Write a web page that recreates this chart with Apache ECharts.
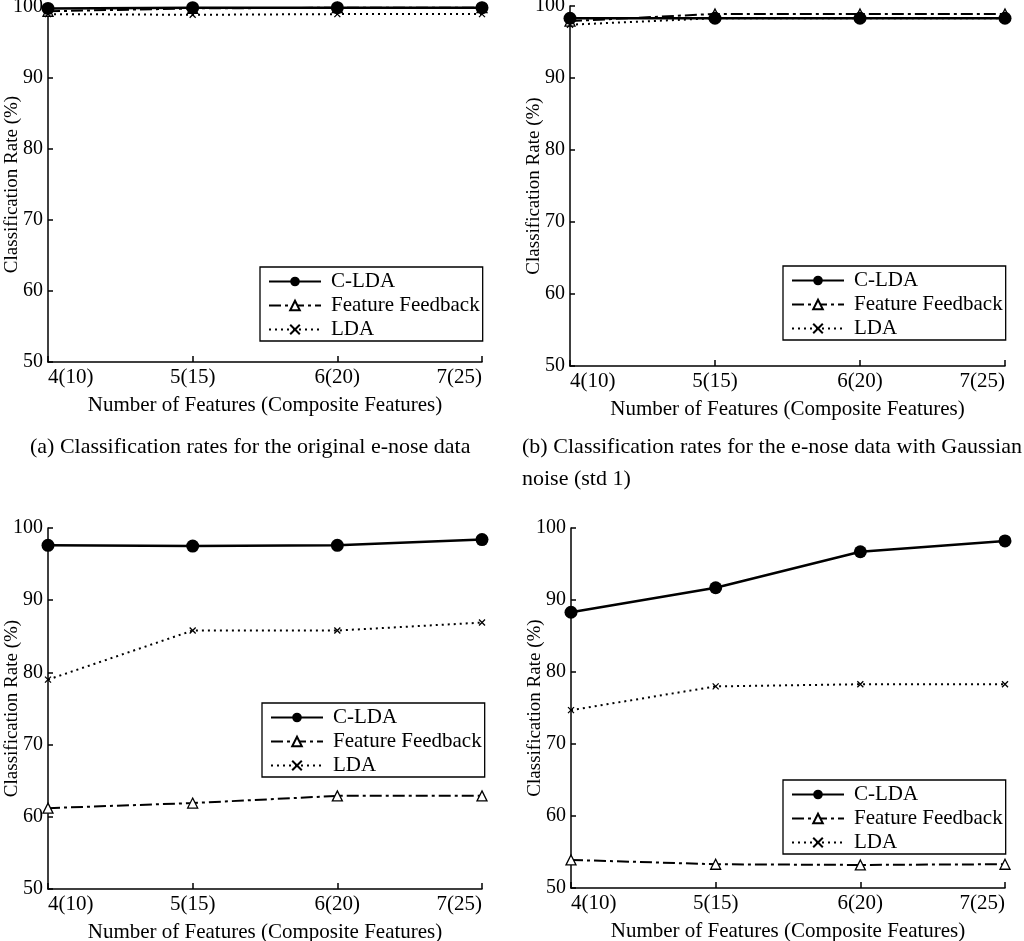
<!DOCTYPE html>
<html lang="en">
<head>
    <meta charset="UTF-8">
    <title>Classification rates</title>
    <script src="https://cdn.jsdelivr.net/npm/echarts@6/dist/echarts.min.js"></script>
    <style>
        html, body { margin: 0; padding: 0; background: #fff; }
        #charts { width: 1024px; height: 941px; }
    </style>
</head>
<body>
<div id="charts"></div>
<script>
    // categories on the x axis
    var categories = ['4(10)', '5(15)', '6(20)', '7(25)'];
    var yTicks = [50, 60, 70, 80, 90, 100];
    var seriesNames = ['C-LDA', 'Feature Feedback', 'LDA'];

    // (a) original e-nose data
    var aCLDA = [99.8, 99.9, 99.9, 99.9];
    var aFeedback = [99.4, 99.8, 99.9, 99.9];
    var aLDA = [99.0, 98.9, 99.0, 99.0];
    // (b) gaussian noise std 1
    var bCLDA = [98.3, 98.3, 98.3, 98.3];
    var bFeedback = [97.9, 98.9, 98.9, 98.9];
    var bLDA = [97.4, 98.3, 98.3, 98.3];
    // (c)
    var cCLDA = [97.6, 97.5, 97.6, 98.4];
    var cFeedback = [61.2, 61.9, 62.9, 62.9];
    var cLDA = [79.0, 85.8, 85.8, 86.9];
    // (d)
    var dCLDA = [88.3, 91.7, 96.7, 98.2];
    var dFeedback = [53.9, 53.3, 53.2, 53.3];
    var dLDA = [74.7, 78.0, 78.3, 78.3];

    var captionA = '(a) Classification rates for the original e-nose data';
    var captionB1 = '(b) Classification rates for the e-nose data with Gaussian';
    var captionB2 = 'noise (std 1)';

    var FONT = '"Liberation Serif", "Times New Roman", serif';

    // panel boxes: left, top, right edge, bottom edge (px)
    var panels = [
        {x0: 48, y0: 7, x1: 482, y1: 362, data: [aCLDA, aFeedback, aLDA], legend: [260, 267]},
        {x0: 570, y0: 6, x1: 1005, y1: 366, data: [bCLDA, bFeedback, bLDA], legend: [783, 266]},
        {x0: 48, y0: 528, x1: 482, y1: 889, data: [cCLDA, cFeedback, cLDA], legend: [262, 703]},
        {x0: 571, y0: 528, x1: 1005, y1: 888, data: [dCLDA, dFeedback, dLDA], legend: [783, 780]}
    ];

    var grids = [], xAxes = [], yAxes = [], series = [], legends = [];

    panels.forEach(function (p, i) {
        grids.push({
            left: p.x0, top: p.y0, width: p.x1 - p.x0, height: p.y1 - p.y0,
            containLabel: false, outerBoundsMode: 'none'
        });
        xAxes.push({
            type: 'category',
            gridIndex: i,
            data: categories,
            boundaryGap: false,
            name: 'Number of Features (Composite Features)',
            nameLocation: 'middle',
            nameGap: 33,
            nameMoveOverlap: false,
            nameTextStyle: {color: '#000', fontFamily: FONT, fontSize: 21},
            axisLine: {lineStyle: {color: '#000', width: 1.5}},
            axisTick: {inside: true, length: 6, lineStyle: {color: '#000', width: 1.5}},
            axisLabel: {
                color: '#000', fontFamily: FONT, fontSize: 21, margin: 5,
                alignMinLabel: 'left', alignMaxLabel: 'right'
            },
            splitLine: {show: false}
        });
        yAxes.push({
            type: 'value',
            gridIndex: i,
            min: yTicks[0],
            max: yTicks[yTicks.length - 1],
            interval: 10,
            name: 'Classification Rate (%)',
            nameLocation: 'middle',
            nameGap: 26,
            nameMoveOverlap: false,
            nameTextStyle: {color: '#000', fontFamily: FONT, fontSize: 19},
            axisLine: {show: true, lineStyle: {color: '#000', width: 1.5}},
            axisTick: {show: true, inside: true, length: 5, lineStyle: {color: '#000', width: 1.5}},
            axisLabel: {color: '#000', fontFamily: FONT, fontSize: 20, margin: 5},
            splitLine: {show: false}
        });

        series.push({
            name: seriesNames[0], type: 'line', xAxisIndex: i, yAxisIndex: i,
            data: p.data[0], clip: false, z: 4,
            symbol: 'circle', symbolSize: 13,
            lineStyle: {color: '#000', width: 2.5},
            itemStyle: {color: '#000'}
        });
        series.push({
            name: seriesNames[1], type: 'line', xAxisIndex: i, yAxisIndex: i,
            data: p.data[1], clip: false, z: 3,
            symbol: 'triangle', symbolSize: 10,
            lineStyle: {color: '#000', width: 2, type: [12, 4, 3, 4]},
            itemStyle: {color: '#fff', borderColor: '#000', borderWidth: 1.3}
        });
        series.push({
            name: seriesNames[2], type: 'line', xAxisIndex: i, yAxisIndex: i,
            data: p.data[2], clip: false, z: 3,
            symbol: 'path://M0,0L10,10M10,0L0,10', symbolSize: 6,
            lineStyle: {color: '#000', width: 2, type: [2, 4]},
            itemStyle: {color: '#000', borderColor: '#000', borderWidth: 1.3}
        });

        legends.push({
            orient: 'vertical',
            left: p.legend[0],
            top: p.legend[1],
            data: seriesNames,
            itemWidth: 52,
            itemHeight: 12,
            itemGap: 3,
            padding: [4, 3, 1, 8],
            backgroundColor: '#fff',
            borderColor: '#000',
            borderWidth: 1.3,
            borderRadius: 0,
            selectedMode: false,
            textStyle: {color: '#000', fontFamily: FONT, fontSize: 21, lineHeight: 20, padding: [0, 0, 0, 5]}
        });
    });

    // captions, (b) first line is justified between two edges like the page
    function textWidth(str, size) {
        var ctx = document.createElement('canvas').getContext('2d');
        ctx.font = size + 'px ' + FONT;
        return ctx.measureText(str).width;
    }

    var graphics = [];
    var capSize = 22;
    graphics.push({
        type: 'text', left: 30, top: 436,
        style: {text: captionA, fill: '#000', font: capSize + 'px ' + FONT}
    });

    var words = captionB1.split(' ');
    var lineLeft = 522, lineRight = 1022;
    var total = 0;
    words.forEach(function (w) { total += textWidth(w, capSize); });
    var gap = (lineRight - lineLeft - total) / (words.length - 1);
    var cx = lineLeft;
    words.forEach(function (w) {
        graphics.push({
            type: 'text', left: cx, top: 436,
            style: {text: w, fill: '#000', font: capSize + 'px ' + FONT}
        });
        cx += textWidth(w, capSize) + gap;
    });
    graphics.push({
        type: 'text', left: lineLeft, top: 468,
        style: {text: captionB2, fill: '#000', font: capSize + 'px ' + FONT}
    });

    var option = {
        animation: false,
        backgroundColor: '#fff',
        grid: grids,
        xAxis: xAxes,
        yAxis: yAxes,
        legend: legends,
        series: series,
        graphic: graphics
    };

    var myChart = echarts.init(document.getElementById('charts'));
    myChart.setOption(option);
</script>
</body>
</html>
